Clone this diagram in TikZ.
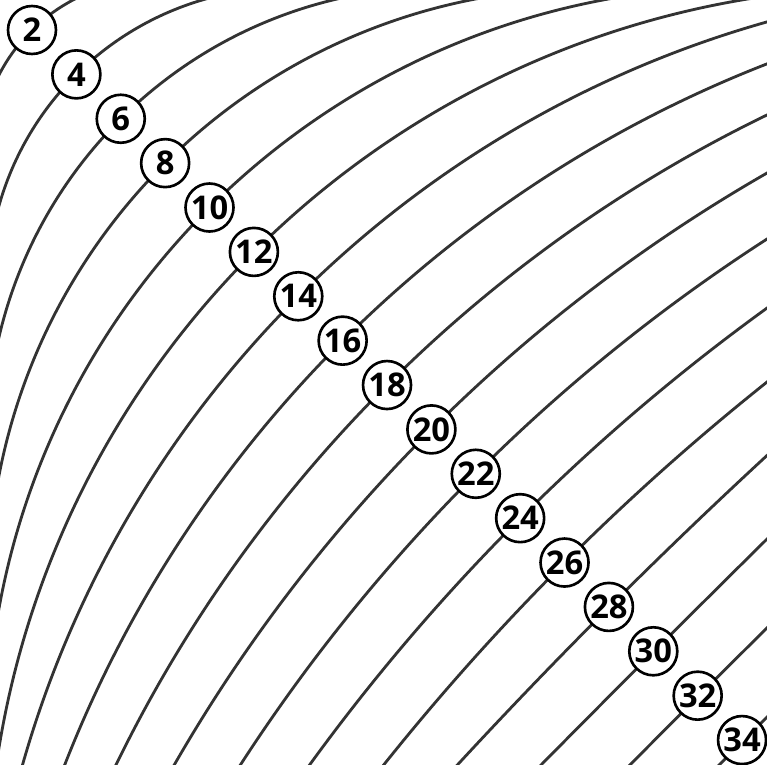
\documentclass[tikz,border=0pt]{standalone}
\usepackage{fontspec}
\setmainfont{Open Sans}
\usetikzlibrary{positioning}

\begin{document}
\begin{tikzpicture}[x=1cm, y=1cm,
  level/.style={draw=black!80, line width=0.8pt},
  tag/.style={circle, draw=black, line width=0.75pt, fill=white, inner sep=0pt,
    minimum size=0.48cm, font=\fontsize{9.3}{10}\selectfont\bfseries}]
  \useasboundingbox (0,0) rectangle (7.67,-7.65);

  % contour arcs, centre (cen,-cen), through the diagonal
  \begin{scope}
    \clip (0,0) rectangle (7.67,-7.65);
    \foreach \lv/\cen in {2/1.55, 4/2.87, 6/4.40, 8/5.89, 10/7.44, 12/8.95, 14/10.60,
        16/12.16, 18/13.80, 20/15.64, 22/17.25, 24/19.67, 26/22.7, 28/45,
        30/200, 32/200, 34/200} {
      \pgfmathsetmacro{\dd}{0.31+0.2219*(\lv-2)}
      \pgfmathsetmacro{\rad}{(\cen-\dd)*1.41421}
      \pgfmathsetmacro{\tip}{180-asin(\cen/\rad)-2}
      \draw[level] (\cen,-\cen) ++(\tip:\rad)
        arc[start angle=\tip, end angle=270-\tip, radius=\rad];
    }
  \end{scope}

  % value tags
  \foreach \lv in {2,4,...,34}
    \node[tag] (t\lv) at ({0.32+0.2219*(\lv-2)}, {-0.30-0.2219*(\lv-2)}) {\lv};
\end{tikzpicture}
\end{document}
